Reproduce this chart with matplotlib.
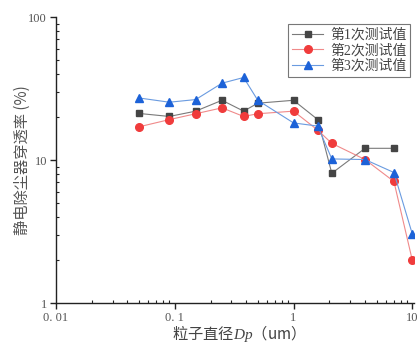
import matplotlib
matplotlib.use("Agg")
from matplotlib import pyplot as plt
from matplotlib.ticker import FixedLocator, FixedFormatter, LogLocator, NullFormatter

# 粒径 (um)
dp_1 = [0.05, 0.09, 0.15, 0.25, 0.38, 0.5, 1.0, 1.6, 2.1, 4.0, 7.0]
dp_23 = [0.05, 0.09, 0.15, 0.25, 0.38, 0.5, 1.0, 1.6, 2.1, 4.0, 7.0, 10.0]

# 穿透率 (%)
run1 = [21.2, 20.2, 22.0, 26.2, 22.0, 25.0, 26.2, 19.2, 8.1, 12.1, 12.1]
run2 = [17.1, 19.2, 21.1, 23.2, 20.2, 21.1, 22.0, 16.2, 13.1, 10.1, 7.1, 2.0]
run3 = [27.2, 25.4, 26.5, 34.5, 37.8, 26.2, 18.2, 17.3, 10.2, 10.1, 8.2, 3.05]

labels = ["第1次测试值", "第2次测试值", "第3次测试值"]
x_ticks = [0.01, 0.1, 1, 10]
x_tick_labels = ["0. 01", "0. 1", "1", "10"]
y_ticks = [1, 10, 100]
y_tick_labels = ["1", "10", "100"]

num_font = ["Liberation Serif", "Noto Sans CJK SC"]
cjk_font = ["Noto Sans CJK SC", "Liberation Serif"]

plt.rcParams["mathtext.fontset"] = "custom"
plt.rcParams["mathtext.it"] = "Liberation Serif:italic"
plt.rcParams["mathtext.rm"] = "Liberation Serif"

fig = plt.figure(figsize=(4.2, 3.43), dpi=100)
ax = fig.add_axes([0.1333, 0.1157, 0.852, 0.8347])

ax.plot(dp_1, run1, color="#7a7a7a", lw=0.8, marker="s", ms=5,
        mfc="#454545", mec="#454545", label=labels[0])
ax.plot(dp_23, run2, color="#f08a8a", lw=0.8, marker="o", ms=5.5,
        mfc="#f03c3c", mec="#f03c3c", label=labels[1])
ax.plot(dp_23, run3, color="#6a9be0", lw=0.8, marker="^", ms=6,
        mfc="#1c62d8", mec="#1c62d8", label=labels[2])

ax.set_xscale("log")
ax.set_yscale("log")
ax.set_xlim(0.01, 10.3)
ax.set_ylim(1, 100)

ax.spines["top"].set_visible(False)
ax.spines["right"].set_visible(False)
for s in ("left", "bottom"):
    ax.spines[s].set_linewidth(1.0)
    ax.spines[s].set_color("#222222")

ax.xaxis.set_major_locator(FixedLocator(x_ticks))
ax.xaxis.set_major_formatter(FixedFormatter(x_tick_labels))
ax.yaxis.set_major_locator(FixedLocator(y_ticks))
ax.yaxis.set_major_formatter(FixedFormatter(y_tick_labels))
ax.xaxis.set_minor_locator(LogLocator(base=10, subs=range(2, 10)))
ax.yaxis.set_minor_locator(LogLocator(base=10, subs=range(2, 10)))
ax.xaxis.set_minor_formatter(NullFormatter())
ax.yaxis.set_minor_formatter(NullFormatter())
ax.tick_params(which="major", direction="out", length=4, width=1, colors="#222222",
               labelcolor="#555555", labelsize=9, pad=2.5)
ax.tick_params(which="minor", direction="in", length=2.5, width=0.8, colors="#222222")
for t in ax.get_xticklabels() + ax.get_yticklabels():
    t.set_family(num_font)

ax.set_xlabel("粒子直径$\\it{Dp}$（um）", family=cjk_font, fontsize=11,
              color="#444444", va="center")
ax.xaxis.set_label_coords(0.5, -0.106)
ax.set_ylabel("静电除尘器穿透率 (%)", family=cjk_font, fontsize=11,
              color="#555555", va="center")
ax.yaxis.set_label_coords(-0.095, 0.5)

leg = ax.legend(loc="upper right", bbox_to_anchor=(1.01, 1.0), frameon=True,
                fancybox=False, edgecolor="#555555", handlelength=2.2,
                handletextpad=0.5, borderpad=0.3, labelspacing=0.15,
                prop={"family": num_font, "size": 10})
leg.get_frame().set_linewidth(0.8)
for t in leg.get_texts():
    t.set_color("#444444")

fig.savefig("out.png", dpi=100)
